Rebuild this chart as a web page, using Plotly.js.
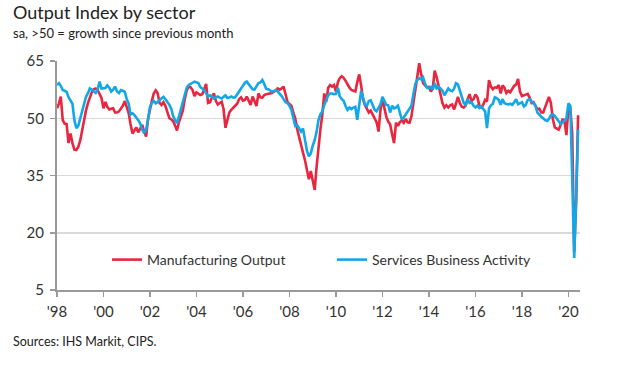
<!DOCTYPE html>
<html>
<head>
<meta charset="utf-8">
<script src="https://cdn.plot.ly/plotly-3.0.1.min.js"></script>
<style>
  html, body { margin: 0; padding: 0; background: #ffffff; }
  #chart { width: 623px; height: 368px; }
</style>
</head>
<body>
<div id="chart"></div>
<script>
// Monthly series, Jan 1998 .. Jun 2020 (one row per year)
const manufacturingOutput = [
  52.6, 53.9, 55.7, 49.5, 48.6, 48.5, 43.5, 46.0, 43.5, 41.8, 41.7, 42.5, // 1998
  44.2, 47.0, 50.2, 52.0, 53.9, 55.3, 56.8, 57.6, 57.8, 57.4, 56.5, 55.3, // 1999
  52.6, 54.3, 53.0, 52.3, 52.5, 52.6, 51.5, 51.5, 51.8, 52.5, 53.3, 54.5, // 2000
  53.0, 51.3, 48.5, 46.0, 46.8, 47.6, 46.3, 47.2, 48.3, 46.5, 45.2, 49.8, // 2001
  52.6, 54.7, 56.5, 57.3, 56.6, 54.0, 53.5, 54.2, 53.2, 51.5, 50.0, 49.7, // 2002
  49.2, 48.0, 46.8, 49.0, 50.8, 52.0, 55.0, 57.3, 58.3, 58.1, 57.4, 55.8, // 2003
  56.8, 56.3, 56.1, 56.3, 57.5, 59.0, 54.0, 54.2, 55.5, 56.5, 54.5, 53.6, // 2004
  54.0, 54.3, 52.5, 47.5, 49.5, 51.5, 52.2, 52.7, 53.2, 53.8, 55.0, 55.5, // 2005
  54.6, 54.8, 55.7, 54.5, 53.5, 55.7, 54.5, 53.2, 56.5, 55.5, 55.4, 56.1, // 2006
  56.3, 56.5, 56.5, 56.6, 56.9, 57.3, 57.8, 57.5, 57.8, 58.3, 56.3, 54.3, // 2007
  53.7, 53.3, 51.5, 50.0, 47.2, 44.8, 42.5, 41.0, 39.0, 36.5, 34.0, 36.2, // 2008
  33.5, 31.2, 37.0, 43.0, 47.0, 51.0, 56.5, 54.3, 58.0, 58.7, 58.3, 58.7, // 2009
  57.0, 59.5, 60.5, 61.0, 60.6, 59.8, 58.8, 58.0, 57.4, 57.2, 57.0, 59.4, // 2010
  61.5, 58.5, 55.0, 53.5, 52.6, 51.5, 52.0, 51.0, 50.0, 49.0, 46.5, 52.2, // 2011
  55.0, 52.5, 50.5, 49.1, 48.4, 45.8, 43.5, 48.8, 48.0, 49.0, 49.4, 48.8, // 2012
  49.8, 48.9, 48.8, 50.5, 53.8, 56.5, 60.3, 64.4, 61.5, 59.2, 58.6, 58.1, // 2013
  58.2, 57.0, 57.8, 62.5, 60.8, 58.3, 56.0, 54.0, 52.8, 53.4, 52.8, 53.4, // 2014
  53.6, 52.3, 53.8, 55.6, 54.0, 53.0, 52.8, 53.4, 55.0, 56.3, 54.5, 55.0, // 2015
  56.2, 55.5, 53.5, 52.6, 53.5, 54.8, 54.4, 60.0, 58.3, 57.6, 58.1, 58.0, // 2016
  58.7, 56.5, 58.6, 58.0, 56.6, 57.2, 56.8, 57.5, 58.5, 58.8, 60.3, 57.0, // 2017
  55.8, 56.0, 56.3, 56.4, 55.4, 54.0, 54.2, 53.0, 52.3, 52.5, 51.5, 51.5, // 2018
  52.8, 54.3, 55.6, 54.0, 49.8, 47.6, 47.2, 47.0, 48.2, 49.8, 49.2, 45.6, // 2019
  53.0, 52.4, 46.0, 15.0, 28.0, 50.8                                      // 2020
];
const servicesActivity = [
  58.7, 59.2, 58.5, 57.4, 57.2, 56.9, 55.5, 54.6, 53.8, 49.5, 47.4, 48.0, // 1998
  50.0, 52.5, 54.2, 55.6, 56.5, 57.8, 57.5, 57.1, 56.6, 57.5, 59.6, 57.8, // 1999
  57.8, 57.9, 58.6, 58.0, 57.0, 57.5, 58.3, 57.0, 56.6, 57.4, 57.2, 56.9, // 2000
  55.0, 53.8, 51.0, 51.3, 50.8, 50.2, 49.5, 48.6, 47.0, 46.1, 47.0, 49.6, // 2001
  53.0, 54.0, 54.5, 53.9, 54.2, 54.8, 55.3, 55.6, 55.0, 54.4, 53.5, 52.5, // 2002
  50.5, 49.5, 48.7, 50.5, 52.3, 53.8, 56.0, 58.0, 58.7, 59.1, 59.3, 59.6, // 2003
  59.4, 59.2, 58.2, 57.8, 57.4, 56.5, 55.7, 56.0, 55.8, 55.2, 55.4, 55.7, // 2004
  55.4, 55.2, 55.6, 56.0, 55.3, 55.4, 55.7, 55.4, 55.5, 56.3, 57.0, 57.9, // 2005
  58.7, 59.3, 59.6, 58.9, 58.3, 57.6, 57.5, 58.3, 59.2, 59.4, 60.0, 59.0, // 2006
  57.7, 57.6, 57.3, 57.0, 57.1, 57.4, 57.0, 56.5, 55.8, 55.0, 54.2, 54.0, // 2007
  53.3, 52.2, 50.0, 48.0, 48.2, 47.5, 46.5, 47.3, 44.5, 41.5, 40.0, 40.8, // 2008
  42.8, 44.3, 46.3, 49.5, 51.0, 51.8, 53.5, 55.0, 56.0, 56.5, 56.5, 56.3, // 2009
  56.4, 58.0, 55.8, 55.0, 54.6, 53.2, 52.2, 52.8, 52.4, 52.8, 53.0, 49.6, // 2010
  54.2, 57.2, 55.5, 53.7, 53.2, 54.5, 54.7, 53.5, 52.2, 51.8, 52.7, 53.6, // 2011
  55.6, 54.5, 53.5, 53.4, 51.5, 53.3, 52.6, 52.8, 53.3, 51.5, 49.6, 50.2, // 2012
  51.0, 51.6, 52.5, 53.3, 56.3, 59.0, 60.0, 60.5, 60.2, 60.7, 59.0, 58.0, // 2013
  57.9, 58.2, 57.5, 59.2, 57.8, 58.2, 57.8, 57.2, 56.0, 57.0, 57.8, 57.3, // 2014
  57.1, 57.8, 59.2, 58.9, 57.4, 55.8, 54.0, 53.5, 55.0, 54.0, 54.2, 53.3, // 2015
  52.8, 53.3, 52.7, 53.1, 52.3, 51.8, 47.4, 52.6, 53.4, 53.8, 55.5, 55.3, // 2016
  54.8, 53.5, 55.0, 54.0, 53.7, 53.6, 53.8, 53.5, 54.2, 55.0, 53.7, 53.9, // 2017
  54.2, 53.1, 53.5, 54.8, 55.0, 54.4, 53.8, 53.3, 51.5, 50.8, 50.4, 50.0, // 2018
  49.5, 49.3, 49.8, 50.8, 51.0, 50.6, 50.0, 49.3, 48.5, 48.9, 49.6, 50.0, // 2019
  53.9, 53.2, 34.5, 13.4, 29.0, 47.1                                      // 2020
];
const tickYears = ['1998','2000','2002','2004','2006','2008','2010','2012','2014','2016','2018','2020'];
const tickLabels = ["'98","'00","'02","'04","'06","'08","'10","'12","'14","'16","'18","'20"];
const yTicks = [5, 20, 35, 50, 65];

// month dates for the series
const months = [];
for (let i = 0; i < manufacturingOutput.length; i++) {
  const y = 1998 + Math.floor(i / 12);
  const m = (i % 12) + 1;
  months.push(y + '-' + (m < 10 ? '0' + m : m) + '-01');
}

const FONT = 'Lato, "Noto Sans", sans-serif';
const TXT = '#333333';

const traces = [
  { x: months, y: manufacturingOutput, type: 'scatter', mode: 'lines',
    name: 'Manufacturing Output', line: { color: '#e8263f', width: 2.6 } },
  { x: months, y: servicesActivity, type: 'scatter', mode: 'lines',
    name: 'Services Business Activity', line: { color: '#12a7e6', width: 2.6 } }
];

const plotL = 57, plotR = 580, plotT = 61, plotB = 290;
const pw = plotR - plotL, ph = plotB - plotT;
const px = v => (v - plotL) / pw;
const py = v => (plotB - v) / ph;

const layout = {
  width: 623, height: 368,
  margin: { l: plotL, r: 623 - plotR, t: plotT, b: 368 - plotB, pad: 0 },
  paper_bgcolor: '#ffffff', plot_bgcolor: '#ffffff',
  font: { family: FONT, color: TXT, size: 14 },
  showlegend: true,
  legend: {
    orientation: 'h', x: px(107), y: py(260), xanchor: 'left', yanchor: 'middle',
    bgcolor: 'rgba(0,0,0,0)', font: { family: FONT, size: 14, color: TXT },
    entrywidth: 180, entrywidthmode: 'pixels', traceorder: 'normal'
  },
  xaxis: {
    type: 'date', range: ['1998-01-01', '2020-07-01'],
    tickmode: 'array', tickvals: tickYears.map(y => y + '-01-01'), ticktext: tickLabels,
    ticks: 'outside', ticklen: 5, tickwidth: 1.5, tickcolor: '#9a9a9a',
    showline: true, linecolor: '#9a9a9a', linewidth: 2,
    showgrid: false, zeroline: false,
    tickfont: { family: FONT, size: 15, color: TXT }, ticklabelstandoff: 2
  },
  yaxis: {
    range: [5, 65], tickmode: 'array', tickvals: yTicks,
    ticks: 'outside', ticklen: 5, tickwidth: 1.5, tickcolor: '#9a9a9a',
    showline: true, linecolor: '#9a9a9a', linewidth: 2,
    showgrid: true, gridcolor: '#d9d9d9', gridwidth: 1.5, zeroline: false,
    tickfont: { family: FONT, size: 15, color: TXT }, ticklabelstandoff: 3
  },
  annotations: [
    { text: 'Output Index by sector', xref: 'paper', yref: 'paper', x: px(11), y: py(12),
      xanchor: 'left', yanchor: 'middle', showarrow: false,
      font: { family: FONT, size: 18, color: '#222222' } },
    { text: 'sa, >50 = growth since previous month', xref: 'paper', yref: 'paper', x: px(11), y: py(33),
      xanchor: 'left', yanchor: 'middle', showarrow: false,
      font: { family: FONT, size: 13, color: '#222222' } },
    { text: 'Sources: IHS Markit, CIPS.', xref: 'paper', yref: 'paper', x: px(11), y: py(341),
      xanchor: 'left', yanchor: 'middle', showarrow: false,
      font: { family: FONT, size: 12.5, color: '#222222' } }
  ]
};

Plotly.newPlot('chart', traces, layout, { displayModeBar: false, staticPlot: true });
</script>
</body>
</html>
